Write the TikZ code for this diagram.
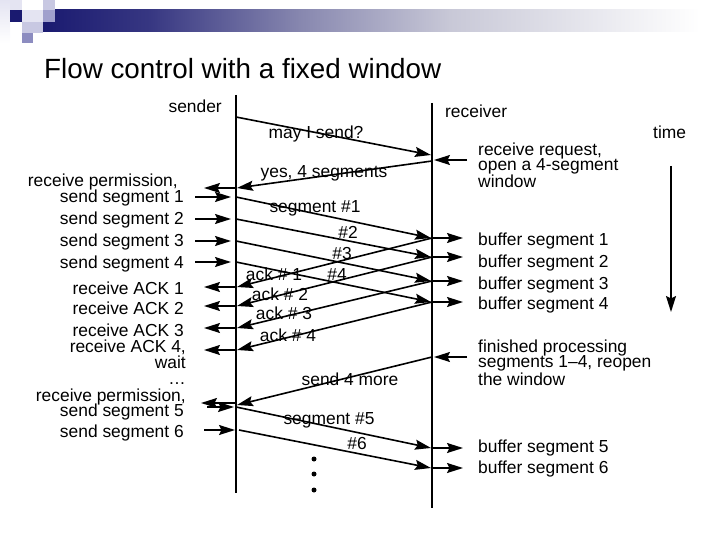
\documentclass[tikz,border=0pt]{standalone}
\usepackage{fontspec}
\setmainfont{Liberation Sans}
\usetikzlibrary{arrows.meta}
\definecolor{navy}{RGB}{26,26,112}
\definecolor{barA}{RGB}{55,55,130}
\definecolor{barB}{RGB}{135,135,175}
\definecolor{barC}{RGB}{200,200,215}
\definecolor{sqpale}{RGB}{228,228,242}
\definecolor{sqlight}{RGB}{200,200,226}
\definecolor{sqmid}{RGB}{160,160,205}
\definecolor{sqper}{RGB}{140,140,192}
\begin{document}
\begin{tikzpicture}[x=1pt,y=-1pt,
  lbl/.style={font=\fontsize{17.4}{15.6}\selectfont, inner sep=0pt},
  lft/.style={lbl, anchor=base east},
  rgt/.style={lbl, anchor=base west},
  mid/.style={lbl, anchor=base},
  life/.style={line width=1.8pt},
  msg/.style={line width=1.6pt, -{Stealth[length=16pt,width=10pt,inset=2.5pt]}},
  dotm/.style={fill=black, circle, inner sep=0pt, minimum size=5pt},
]
\useasboundingbox (0,0) rectangle (720,540);
% ---- header decoration ----
\fill[left color=navy, right color=barA] (43,10) rectangle (150,32);
\fill[left color=barA, right color=barB] (149.5,10) rectangle (300,32);
\fill[left color=barB, right color=barC] (299.5,10) rectangle (450,32);
\fill[left color=barC, right color=white] (449.5,10) rectangle (700,32);
\fill[top color=sqpale, bottom color=white] (0,0) rectangle (10,43);
\fill[sqpale] (10,0) rectangle (22,10);
\fill[navy] (10,10) rectangle (22,22);
\fill[sqpale] (22,10) rectangle (43,22);
\fill[sqlight] (43,0) rectangle (55,10);
\fill[sqmid] (43,10) rectangle (55,22);
\fill[sqlight] (22,22) rectangle (43,33);
\fill[sqper] (22,33) rectangle (33,43);
% ---- title ----
\node[font=\fontsize{27.8}{30}\selectfont, anchor=base west, inner sep=0pt] (title) at (44,79) {Flow control with a fixed window};
% ---- lifelines ----
\coordinate (Stop) at (236,95);
\coordinate (Sbot) at (236,493);
\coordinate (Rtop) at (432,103);
\coordinate (Rbot) at (432,508);
\draw[life] (Stop) -- (Sbot);
\draw[life] (Rtop) -- (Rbot);
% ---- left labels ----
\node[lft] (lsender) at (222,113) {sender};
\node[lft] (lperm1) at (178,187) {receive permission,};
\node[lft] (lss1) at (184,203) {send segment 1};
\node[lft] (lss2) at (184,225) {send segment 2};
\node[lft] (lss3) at (184,247) {send segment 3};
\node[lft] (lss4) at (184,268) {send segment 4};
\node[lft] (lra1) at (184,294) {receive ACK 1};
\node[lft] (lra2) at (184,314) {receive ACK 2};
\node[lft] (lra3) at (184,336) {receive ACK 3};
\node[lft, align=right] (lra4) at (186,384) {receive ACK 4,\\wait\\…};
\node[lft] (lperm2) at (186,401) {receive permission,};
\node[lft] (lss5) at (184,416) {send segment 5};
\node[lft] (lss6) at (184,437) {send segment 6};
% ---- right labels ----
\node[rgt] (lreceiver) at (445,118) {receiver};
\node[rgt] (ltime) at (653,139) {time};
\node[rgt, align=left] (lreq) at (478,188) {receive request,\\open a 4-segment\\window};
\node[rgt] (lbs1) at (478,245) {buffer segment 1};
\node[rgt] (lbs2) at (478,267) {buffer segment 2};
\node[rgt] (lbs3) at (478,289) {buffer segment 3};
\node[rgt] (lbs4) at (478,309) {buffer segment 4};
\node[rgt, align=left] (lfin) at (478,385) {finished processing\\segments 1–4, reopen\\the window};
\node[rgt] (lbs5) at (478,452) {buffer segment 5};
\node[rgt] (lbs6) at (478,473) {buffer segment 6};
% ---- middle labels ----
\node[mid] (mmay) at (316,139) {may I send?};
\node[mid] (myes) at (324,178) {yes, 4 segments};
\node[mid] (mseg1) at (315,212) {segment \#1};
\node[mid] (mseg2) at (348,239) {\#2};
\node[mid] (mseg3) at (342,259) {\#3};
\node[mid] (mack1) at (274,280) {ack \# 1};
\node[mid] (mseg4) at (337,280) {\#4};
\node[mid] (mack2) at (280,300) {ack \# 2};
\node[mid] (mack3) at (284,319) {ack \# 3};
\node[mid] (mack4) at (288,341) {ack \# 4};
\node[mid] (mmore) at (350,385) {send 4 more};
\node[mid] (mseg5) at (329,424) {segment \#5};
\node[mid] (mseg6) at (357,449) {\#6};
% ---- event coordinates ----
\coordinate (sMay) at (236,117);   \coordinate (rMay) at (431,155);
\coordinate (qA) at (467,160);     \coordinate (qB) at (434,160);
\coordinate (rYes) at (432,161);   \coordinate (sYes) at (237,188);
\coordinate (pA) at (236,188);     \coordinate (pB) at (204,188);
\foreach \i/\ys/\yr in {1/197/238, 2/219/257, 3/241/281, 4/262/302}{
  \coordinate (ta\i) at (195,\ys);
  \coordinate (tb\i) at (231,\ys);
  \coordinate (s\i) at (236,\ys);
  \coordinate (r\i) at (431,\yr);
  \coordinate (rr\i) at (432,\yr);
  \coordinate (bb\i) at (463,\yr);
}
\foreach \i/\ys in {1/287, 2/306, 3/328, 4/350}{
  \coordinate (ka\i) at (237,\ys);
  \coordinate (kl\i) at (236,\ys);
  \coordinate (kb\i) at (204,\ys);
}
\coordinate (fA) at (467,357);     \coordinate (fB) at (434,357);
\coordinate (rMore) at (432,357);  \coordinate (sMore) at (237,405);
\coordinate (p2A) at (236,403);    \coordinate (p2B) at (201,403);
\coordinate (t5a) at (207,407);    \coordinate (t5b) at (234,407);
\coordinate (s5) at (236,407);     \coordinate (r5) at (431,448);
\coordinate (rr5) at (432,448);    \coordinate (bb5) at (463,448);
\coordinate (t6a) at (204,430);    \coordinate (t6b) at (235,430);
\coordinate (s6) at (239,430);     \coordinate (r6) at (431,468);
\coordinate (rr6) at (432,468);    \coordinate (bb6) at (463,468);
\coordinate (tmA) at (671,166);    \coordinate (tmB) at (671,312);
% ---- messages ----
\draw[msg] (sMay) -- (rMay);
\draw[msg] (qA) -- (qB);
\draw[msg] (rYes) -- (sYes);
\draw[msg] (pA) -- (pB);
\foreach \i in {1,2,3,4}{
  \draw[msg] (ta\i) -- (tb\i);
  \draw[msg] (s\i) -- (r\i);
  \draw[msg] (rr\i) -- (bb\i);
  \draw[msg] (rr\i) -- (ka\i);
  \draw[msg] (kl\i) -- (kb\i);
}
\draw[msg] (fA) -- (fB);
\draw[msg] (rMore) -- (sMore);
\draw[msg] (p2A) -- (p2B);
\draw[msg] (t5a) -- (t5b);
\draw[msg] (s5) -- (r5);
\draw[msg] (rr5) -- (bb5);
\draw[msg] (t6a) -- (t6b);
\draw[msg] (s6) -- (r6);
\draw[msg] (rr6) -- (bb6);
\draw[msg] (tmA) -- (tmB);
% ---- continuation dots ----
\node[dotm] (d1) at (314,459) {};
\node[dotm] (d2) at (314,474) {};
\node[dotm] (d3) at (314,490) {};
\end{tikzpicture}
\end{document}
